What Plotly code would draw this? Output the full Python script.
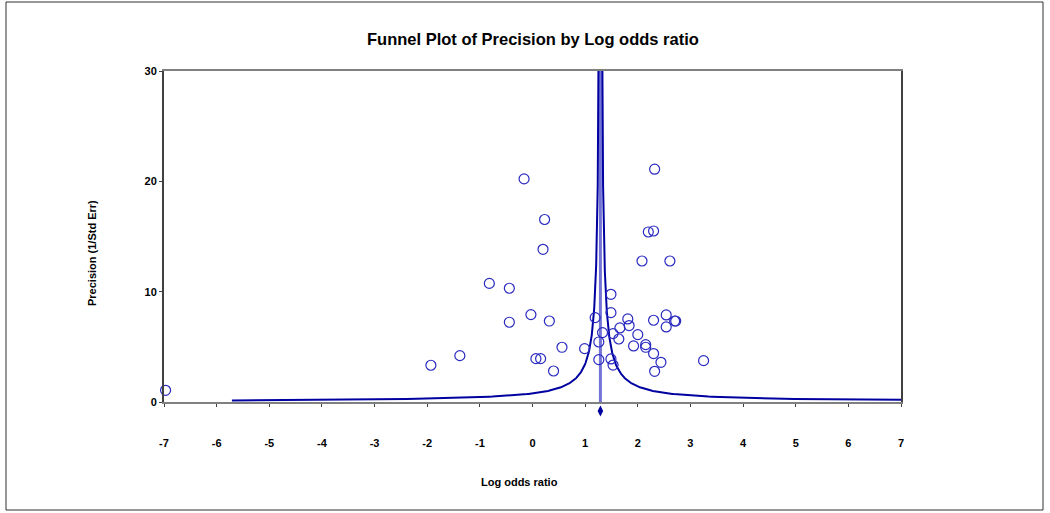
import numpy as np
import plotly.graph_objects as go

# ---- data ----
log_odds = [-6.97, -1.93, -1.38, -0.82, -0.44, -0.44, -0.16, -0.03, 0.065, 0.154,
            0.20, 0.23, 0.32, 0.40, 0.56, 0.99, 1.19,
            1.26, 1.26, 1.33, 1.49, 1.49, 1.49, 1.53, 1.53, 1.64, 1.66,
            1.81, 1.835, 1.92, 2.00, 2.08, 2.15, 2.15, 2.20, 2.30, 2.30,
            2.30, 2.32, 2.32, 2.44, 2.54, 2.54, 2.61, 2.70, 2.72, 3.25]
precision = [1.06, 3.33, 4.20, 10.75, 10.31, 7.23, 20.22, 7.92, 3.93, 3.93,
             13.84, 16.54, 7.34, 2.81, 4.96, 4.84, 7.65,
             5.44, 3.84, 6.29, 9.76, 8.10, 3.90, 6.20, 3.35, 5.71, 6.71,
             7.53, 6.93, 5.08, 6.11, 12.78, 5.20, 4.96, 15.41, 15.50, 7.41,
             4.39, 21.10, 2.78, 3.60, 7.89, 6.80, 12.78, 7.34, 7.34, 3.75]
pooled_log_odds = 1.29
funnel_multiplier = 1.0
x_ticks = [-7, -6, -5, -4, -3, -2, -1, 0, 1, 2, 3, 4, 5, 6, 7]
y_ticks = [0, 10, 20, 30]

FONT = "Liberation Sans, Arial, sans-serif"
DARK = "#0000a0"
PT = "#2a2ac0"

# funnel boundaries: pooled +/- k / precision
p_grid = np.concatenate([np.linspace(funnel_multiplier / 7.0, 3, 200), np.linspace(3, 40, 200)])
left_x = pooled_log_odds - funnel_multiplier / p_grid
right_x = pooled_log_odds + funnel_multiplier / p_grid

fig = go.Figure()
fig.add_trace(go.Scatter(x=[pooled_log_odds, pooled_log_odds], y=[0, 30], mode="lines",
                         line=dict(color="rgba(80,80,205,0.8)", width=3), hoverinfo="skip"))
fig.add_trace(go.Scatter(x=left_x, y=p_grid, mode="lines", line=dict(color=DARK, width=2), hoverinfo="skip"))
fig.add_trace(go.Scatter(x=right_x, y=p_grid, mode="lines", line=dict(color=DARK, width=2), hoverinfo="skip"))
fig.add_trace(go.Scatter(x=log_odds, y=precision, mode="markers",
                         marker=dict(symbol="circle-open", size=10, color=PT, line=dict(width=1.2, color=PT)),
                         cliponaxis=False))
# summary diamond in a thin strip below the main axis
fig.add_trace(go.Scatter(x=[pooled_log_odds], y=[0.5], mode="markers", xaxis="x2", yaxis="y2",
                         marker=dict(symbol="diamond-tall", size=8, color=DARK), cliponaxis=False))

W, H = 1050, 513
L, R, T, B = 164, 149, 71, 93          # paper area: x 164..901, y 71..420
AX_BOTTOM = 402                         # pixel of the main x axis
pw, ph = W - L - R, H - T - B
strip = (H - B - AX_BOTTOM) / ph

def px(x):
    return (x - L) / pw

def py(y):
    return (H - B - y) / ph

fig.update_layout(
    width=W, height=H, showlegend=False,
    margin=dict(l=L, r=R, t=T, b=B),
    paper_bgcolor="white", plot_bgcolor="white",
    font=dict(family=FONT, color="black"),
    xaxis=dict(range=[-7, 7], tickvals=x_ticks, ticktext=[str(v) for v in x_ticks], anchor="y",
               showgrid=False, zeroline=False, showline=True, linecolor="#808080", linewidth=2,
               mirror=True, ticks="outside", ticklen=3, tickcolor="#404040",
               tickfont=dict(size=11, family=FONT, weight="bold"), ticklabelstandoff=27),
    yaxis=dict(range=[0, 30], domain=[strip, 1], tickvals=y_ticks, showgrid=False, zeroline=False,
               showline=True, linecolor="#404040", linewidth=2, mirror=True, ticks="outside", ticklen=3,
               tickcolor="#404040", tickfont=dict(size=11, family=FONT, weight="bold")),
    xaxis2=dict(range=[-7, 7], anchor="y2", visible=False, showgrid=False, zeroline=False),
    yaxis2=dict(range=[0, 1], domain=[0, strip], anchor="x2", visible=False, showgrid=False, zeroline=False),
    annotations=[
        dict(text="Funnel Plot of Precision by Log odds ratio", x=px(533), y=py(39), xref="paper", yref="paper",
             showarrow=False, font=dict(size=16.5, family=FONT, weight="bold"), xanchor="center", yanchor="middle"),
        dict(text="Log odds ratio", x=px(519), y=py(482), xref="paper", yref="paper",
             showarrow=False, font=dict(size=11, family=FONT, weight="bold"), xanchor="center", yanchor="middle"),
        dict(text="Precision (1/Std Err)", x=px(92), y=py(253), xref="paper", yref="paper", textangle=-90,
             showarrow=False, font=dict(size=11, family=FONT, weight="bold"), xanchor="center", yanchor="middle"),
    ],
    shapes=[dict(type="rect", xref="paper", yref="paper", x0=px(6), x1=px(1043), y0=py(510), y1=py(2),
                 line=dict(color="#303030", width=1), fillcolor="rgba(0,0,0,0)")],
)
fig.write_html("out.html", config={"displayModeBar": False},
               post_script="document.body.style.margin='0px';document.body.style.overflow='hidden';"
                           "document.documentElement.style.overflow='hidden';")
